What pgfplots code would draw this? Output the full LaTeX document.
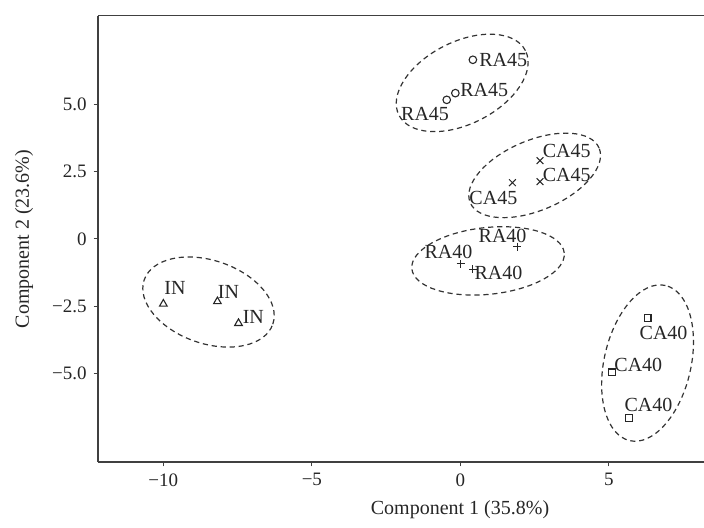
\documentclass[border=0pt]{standalone}
\usepackage{fontspec}
\setmainfont{Liberation Serif}
\usepackage{pgfplots}
\pgfplotsset{compat=1.18}

\tikzset{
  lbl/.style={font=\fontsize{10}{12}\selectfont, text=black!85, inner sep=0pt, anchor=center},
  grp/.style={black!80, line width=0.6pt, dash pattern=on 2.6pt off 1.9pt},
}

\begin{document}
\begin{tikzpicture}
  \begin{axis}[
      name=ax,
      scale only axis,
      width=303pt, height=223.15pt,
      xmin=-12.2, xmax=8.2,
      ymin=-8.3, ymax=8.3,
      axis x line=box, axis y line=left,
      xtick pos=left, ytick pos=left,
      axis line style={black!75, line width=0.7pt},
      y axis line style={-},
      tick align=outside,
      major tick length=2.2pt,
      tick style={black!75, line width=0.5pt},
      xtick={-10,-5,0,5},
      xticklabels={−10,−5,0,5},
      ytick={-5,-2.5,0,2.5,5},
      yticklabels={−5.0,−2.5,0,2.5,5.0},
      ticklabel style={font=\fontsize{9.5}{11}\selectfont, text=black!85},
      xlabel={Component 1 (35.8\%)},
      ylabel={Component 2 (23.6\%)},
      every axis x label/.style={at={(rel axis cs:0.5974,0)}, anchor=center,
                                yshift=-24pt, font=\fontsize{10}{12}\selectfont, text=black!85},
      every axis y label/.style={at={(rel axis cs:0,0.5)}, anchor=center, rotate=90,
                                yshift=37pt, font=\fontsize{10}{12}\selectfont, text=black!85},
      clip=false,
    ]

    % RA45
    \addplot[only marks, mark=o, mark size=1.9pt, black!85, mark options={line width=0.55pt}]
      coordinates {(0.42,6.66) (-0.17,5.42) (-0.46,5.17)};
    % CA45
    \addplot[only marks, mark=x, mark size=2.4pt, black!85, mark options={line width=0.5pt}]
      coordinates {(2.68,2.91) (2.68,2.13) (1.75,2.09)};
    % RA40
    \addplot[only marks, mark=+, mark size=2pt, black!85, mark options={line width=0.6pt}]
      coordinates {(1.92,-0.29) (0.01,-0.93) (0.42,-1.13)};
    % IN
    \addplot[only marks, mark=triangle, mark size=2.2pt, black!85, mark options={line width=0.55pt}]
      coordinates {(-10.0,-2.42) (-8.18,-2.33) (-7.47,-3.14)};
    % CA40
    \addplot[only marks, mark=square, mark size=1.7pt, black!85, mark options={line width=0.6pt}]
      coordinates {(6.30,-2.95) (5.10,-4.97) (5.68,-6.67)};

    \node[lbl] at (axis cs:1.44,6.65) {RA45};
    \node[lbl] at (axis cs:0.80,5.54) {RA45};
    \node[lbl] at (axis cs:-1.19,4.63) {RA45};
    \node[lbl] at (axis cs:3.58,3.25) {CA45};
    \node[lbl] at (axis cs:3.58,2.38) {CA45};
    \node[lbl] at (axis cs:1.11,1.53) {CA45};
    \node[lbl] at (axis cs:1.42,0.09) {RA40};
    \node[lbl] at (axis cs:-0.40,-0.49) {RA40};
    \node[lbl] at (axis cs:1.28,-1.25) {RA40};
    \node[lbl] at (axis cs:-9.61,-1.83) {IN};
    \node[lbl] at (axis cs:-7.81,-1.96) {IN};
    \node[lbl] at (axis cs:-6.97,-2.90) {IN};
    \node[lbl] at (axis cs:6.84,-3.49) {CA40};
    \node[lbl] at (axis cs:5.99,-4.69) {CA40};
    \node[lbl] at (axis cs:6.33,-6.18) {CA40};

    \draw[grp] (axis cs:0.06,5.80) ellipse [x radius=35.5pt, y radius=20.5pt, rotate=27];
    \draw[grp] (axis cs:2.50,2.36) ellipse [x radius=35pt, y radius=17.5pt, rotate=23];
    \draw[grp] (axis cs:0.93,-0.82) ellipse [x radius=38.3pt, y radius=16.7pt, rotate=6];
    \draw[grp] (axis cs:-8.48,-2.35) ellipse [x radius=34pt, y radius=20.75pt, rotate=-19];
    \draw[grp] (axis cs:6.30,-4.62) ellipse [x radius=39.8pt, y radius=21.7pt, rotate=77];
  \end{axis}
  \pgfresetboundingbox
  \path ([xshift=-49pt,yshift=-32.5pt]ax.south west) rectangle ([yshift=7.85pt]ax.north east);
\end{tikzpicture}
\end{document}
